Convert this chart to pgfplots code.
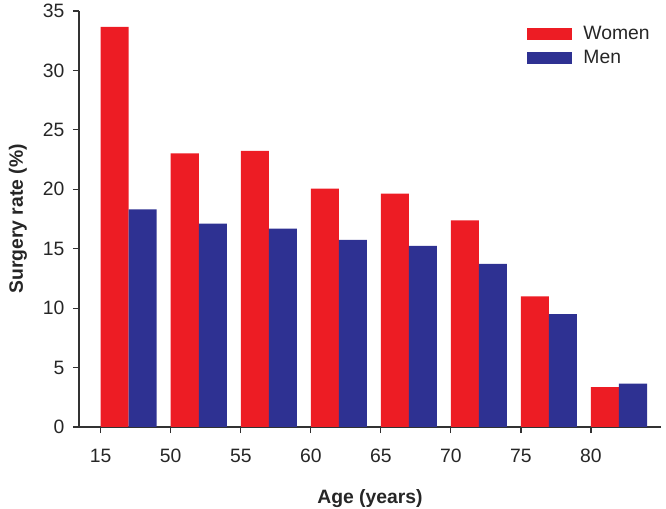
\documentclass[border=0pt]{standalone}
\usepackage{pgfplots}
\pgfplotsset{compat=1.18}
\usepackage{fontspec}
\setmainfont{Liberation Sans}
\definecolor{wred}{RGB}{237,28,36}
\definecolor{mblue}{RGB}{46,49,146}
\definecolor{axgray}{RGB}{50,50,50}
\begin{document}
\begin{tikzpicture}
\path[use as bounding box] (-59.25pt,-61.5pt) rectangle (440.25pt,320.25pt);
\begin{axis}[
  at={(0,0)}, anchor=south west,
  scale only axis,
  width=436.5pt, height=312pt,
  xmin=-0.31, xmax=8.0,
  ymin=0, ymax=35,
  axis x line*=bottom, axis y line*=left,
  axis line style={-, axgray, line width=0.9pt},
  tick style={axgray, line width=0.9pt},
  tick align=outside,
  major tick length=4.5pt,
  xtick={0,...,7},
  xticklabels={15,50,55,60,65,70,75,80},
  ytick={0,5,...,35},
  /pgf/number format/assume math mode=true,
  ticklabel style={font=\fontsize{14.5}{17}\selectfont, text=black!85},
  xticklabel style={yshift=-8.5pt},
  yticklabel style={xshift=-3pt},
  xlabel={\textbf{Age (years)}},
  ylabel={\textbf{Surgery rate (\%)}},
  label style={font=\fontsize{14.5}{17}\selectfont, text=black!85},
  xlabel style={yshift=-13pt},
  ylabel style={yshift=5pt},
  legend style={draw=none, fill=none, inner sep=0pt, at={(0.77,0.97)}, anchor=north west,
    font=\fontsize{14.5}{17}\selectfont, row sep=2.5pt, text=black!85},
  legend cell align=left,
  legend image code/.code={\fill[#1] (0pt,-4.5pt) rectangle (33.75pt,4.5pt); \path (40pt,0pt);},
]
\addplot[ybar, bar width=0.4, bar shift=0.2, fill=wred, draw=none] coordinates {
(0,33.66) (1,23.02) (2,23.24) (3,20.05) (4,19.63) (5,17.39) (6,10.98) (7,3.36)};
\addlegendentry{Women}
\addplot[ybar, bar width=0.4, bar shift=0.6, fill=mblue, draw=none] coordinates {
(0,18.31) (1,17.11) (2,16.69) (3,15.74) (4,15.23) (5,13.72) (6,9.49) (7,3.64)};
\addlegendentry{Men}
\end{axis}
\end{tikzpicture}
\end{document}
